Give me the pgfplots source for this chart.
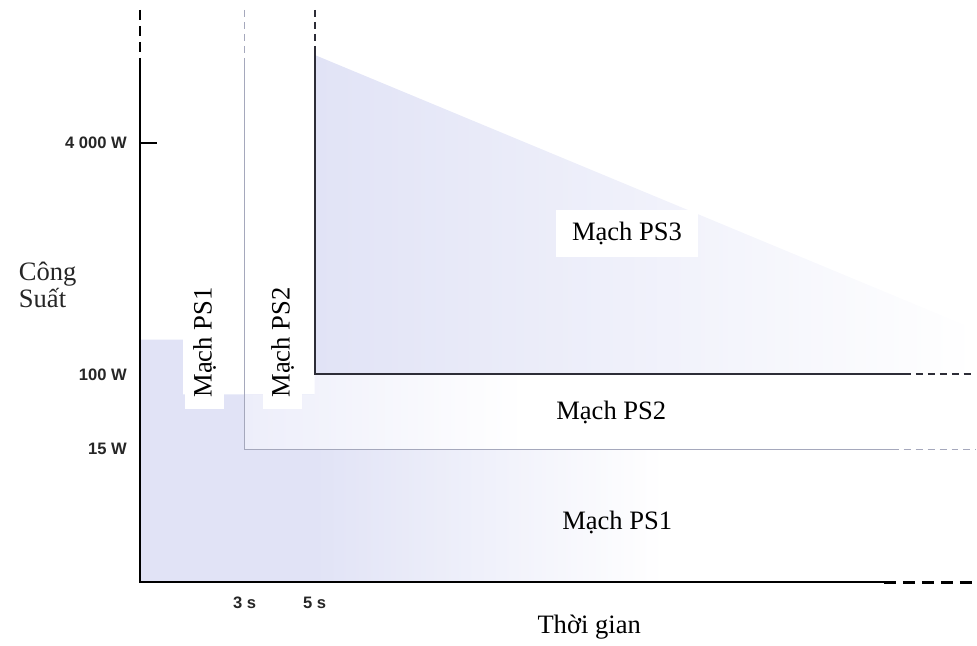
\documentclass[border=0pt]{standalone}
\usepackage{fontspec}
\setmainfont{Liberation Serif}
\newfontfamily\tickfont{Liberation Sans}
\usepackage{pgfplots}
\pgfplotsset{compat=1.18}
\definecolor{lav}{RGB}{225,227,246}
\definecolor{lavlight}{RGB}{237,238,250}
\definecolor{ps1line}{RGB}{165,168,188}
\definecolor{ps2line}{RGB}{45,45,55}
\begin{document}
\begin{tikzpicture}
\begin{axis}[
  scale only axis,
  width=418.5pt, height=286.5pt,
  xmin=0, xmax=23.914, ymin=0, ymax=573,
  clip=false,
  axis line style={draw=none},
  xtick={3,5}, xticklabels={3 s,5 s},
  ytick={133,208,440}, yticklabels={15 W,100 W,4 000 W},
  xtick pos=bottom, ytick pos=left,
  tick align=inside,
  major tick length=8.5pt,
  tick style={black, line width=1pt},
  ticklabel style={font=\tickfont\bfseries\fontsize{8.3}{10}\selectfont, text=black!85},
  yticklabel style={xshift=-3pt},
  xticklabel style={yshift=-4pt},
]
% invisible frame to fix picture size
\path (axis cs:-4,-60) rectangle (axis cs:23.914,583);

% background shading
\addplot[draw=none, fill=lav] coordinates {(0,0) (0,243) (1.23,243) (1.23,188) (5,188) (5,0)} -- cycle;
\addplot[draw=none, left color=lav, right color=white] coordinates {(5,0) (5,133) (15,133) (15,0)} -- cycle;
\addplot[draw=none, left color=lavlight, right color=white] coordinates {(3,133) (3,188) (5,188) (5,208) (11,208) (11,133)} -- cycle;
\addplot[draw=none, left color=lav, right color=white] coordinates {(5,208) (5,528) (23.914,253) (23.914,208)} -- cycle;

% PS1 boundary
\addplot[ps1line, line width=0.8pt] coordinates {(3,523) (3,133) (21.51,133)};
\addplot[ps1line, line width=0.8pt, dash pattern=on 3.5pt off 2.5pt] coordinates {(3,573) (3,523)};
\addplot[ps1line, line width=0.8pt, dash pattern=on 3.5pt off 2.5pt] coordinates {(21.51,133) (23.914,133)};
% PS2 boundary
\addplot[ps2line, line width=1pt] coordinates {(5,533) (5,208) (21.86,208)};
\addplot[ps2line, line width=1pt, dash pattern=on 3.5pt off 2.5pt] coordinates {(5,573) (5,533)};
\addplot[ps2line, line width=1pt, dash pattern=on 3.5pt off 2.5pt] coordinates {(21.86,208) (23.914,208)};
% axes
\addplot[black, line width=1.2pt] coordinates {(0,515) (0,0) (21.29,0)};
\addplot[black, line width=1.2pt, dash pattern=on 5pt off 3pt] coordinates {(0,573) (0,515)};
\addplot[black, line width=1.4pt, dash pattern=on 6pt off 3.5pt] coordinates {(21.29,0) (23.914,0)};

% labels
\node[fill=white, inner xsep=8pt, inner ysep=6pt, font=\fontsize{13.3}{15}\selectfont] at (axis cs:13.94,349) {Mạch PS3};
\node[font=\fontsize{13.3}{15}\selectfont] at (axis cs:13.49,170) {Mạch PS2};
\node[font=\fontsize{13.3}{15}\selectfont] at (axis cs:13.66,60) {Mạch PS1};
\node[fill=white, rotate=90, inner xsep=6pt, inner ysep=4pt, font=\fontsize{13.3}{15}\selectfont] at (axis cs:1.857,240) {Mạch PS1};
\node[fill=white, rotate=90, inner xsep=6pt, inner ysep=4pt, font=\fontsize{13.3}{15}\selectfont] at (axis cs:4.086,240) {Mạch PS2};
\node[anchor=west, align=left, font=\fontsize{13.3}{12.5}\selectfont, text=black!85] at (axis cs:-3.66,298) {Công\\Suất};
\node[font=\fontsize{13.3}{15}\selectfont] at (axis cs:12.857,-45) {Thời gian};
\end{axis}
\end{tikzpicture}
\end{document}
